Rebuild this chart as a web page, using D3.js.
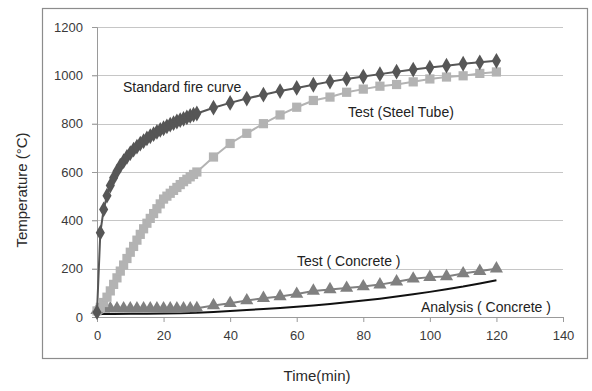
<!DOCTYPE html>
<html>
<head>
<meta charset="utf-8">
<script src="https://cdn.jsdelivr.net/npm/d3@7"></script>
<style>
  body { margin: 0; background: #fff; }
  svg { display: block; }
</style>
</head>
<body>
<div id="chart"></div>
<script>
// time grid (min)
var timeFire = [0,1,2,3,4,5,6,7,8,9,10,11,12,13,14,15,16,17,18,19,20,21,22,23,24,25,26,27,28,29,30,
  35,40,45,50,55,60,65,70,75,80,85,90,95,100,105,110,115,120];
var fireCurve = [20,349,445,502,544,576,603,626,645,663,678,693,705,717,728,739,748,757,766,774,781,789,796,802,809,815,820,826,832,837,842,
  866,886,904,920,935,948,961,974,985,995,1005,1015,1024,1032,1040,1048,1054,1060];

var timeSteel = timeFire;
var steelTube = [25,40,60,82,108,135,162,190,215,242,268,292,318,342,365,388,408,428,448,468,488,500,512,524,536,548,560,570,580,590,600,
  662,718,760,800,836,868,896,910,930,943,955,962,973,985,993,998,1008,1014];

var timeConcrete = [0,2,4,6,8,10,12,14,16,18,20,22,24,26,28,30,35,40,45,50,55,60,65,70,75,80,85,90,95,100,105,110,115,120];
var testConcrete = [28,34,35,35,35,35,35,35,35,35,35,35,35,35,35,36,48,57,68,78,85,95,108,114,120,126,134,146,158,165,168,180,190,200];

var timeAnalysis = [0,5,10,15,20,25,30,35,40,45,50,55,60,65,70,75,80,85,90,95,100,105,110,115,120];
var analysisConcrete = [12,12,13,13,14,15,18,21,25,29,33,37,42,48,54,61,68,76,85,94,104,115,126,139,152];

var xTicks = [0,20,40,60,80,100,120,140];
var yTicks = [0,200,400,600,800,1000,1200];

var svg = d3.select("#chart").append("svg")
  .attr("width", 592)
  .attr("height", 391);

// outer frame
svg.append("rect")
  .attr("x", 42.5).attr("y", 8.5)
  .attr("width", 545).attr("height", 350)
  .attr("fill", "#fff")
  .attr("stroke", "#8c8c8c")
  .attr("stroke-width", 1.2);

var x = d3.scaleLinear().domain([0, 140]).range([97, 563]);
var y = d3.scaleLinear().domain([0, 1200]).range([317, 27]);

// gridlines
svg.append("g")
  .selectAll("line")
  .data(yTicks.filter(function(d){ return d > 0; }))
  .enter()
  .append("line")
    .attr("x1", x(0) - 5).attr("x2", x(140))
    .attr("y1", function(d){ return Math.round(y(d)) + 0.5; })
    .attr("y2", function(d){ return Math.round(y(d)) + 0.5; })
    .attr("stroke", "#c6c6c6")
    .attr("stroke-width", 1);

// y axis
var yAxis = svg.append("g")
  .attr("transform", "translate(" + x(0) + ",0)")
  .call(d3.axisLeft(y).tickValues(yTicks).tickFormat(d3.format("d")).tickSize(5).tickPadding(9))
  .attr("font-family", "Liberation Sans, Arial, sans-serif")
  .attr("font-size", 13);
yAxis.selectAll("line").attr("stroke", "#9a9a9a");
yAxis.select(".domain").attr("stroke", "#9a9a9a");
yAxis.selectAll("text").attr("fill", "#3a3a3a");

// x axis
var xAxis = svg.append("g")
  .attr("transform", "translate(0," + y(0) + ")")
  .call(d3.axisBottom(x).tickValues(xTicks).tickFormat(d3.format("d")).tickSize(5).tickPadding(9).tickSizeOuter(0))
  .attr("font-family", "Liberation Sans, Arial, sans-serif")
  .attr("font-size", 13);
xAxis.selectAll("line").attr("stroke", "#9a9a9a");
xAxis.select(".domain").attr("stroke", "#9a9a9a");
xAxis.selectAll("text").attr("fill", "#3a3a3a");

// axis titles
svg.append("text")
  .attr("transform", "translate(27,190) rotate(-90)")
  .attr("text-anchor", "middle")
  .attr("font-family", "Liberation Sans, Arial, sans-serif")
  .attr("font-size", 15)
  .attr("fill", "#2a2a2a")
  .text("Temperature   (°C)");

svg.append("text")
  .attr("x", 317).attr("y", 381)
  .attr("text-anchor", "middle")
  .attr("font-family", "Liberation Sans, Arial, sans-serif")
  .attr("font-size", 15)
  .attr("fill", "#2a2a2a")
  .text("Time(min)");

function toPoints(ts, vs) {
  return ts.map(function(t, i){ return [t, vs[i]]; });
}

var line = d3.line()
  .x(function(d){ return x(d[0]); })
  .y(function(d){ return y(d[1]); });

// Analysis (Concrete) - plain black line
svg.append("path")
  .datum(toPoints(timeAnalysis, analysisConcrete))
  .attr("d", line)
  .attr("fill", "none")
  .attr("stroke", "#111")
  .attr("stroke-width", 2);

// series with markers
var series = [
  { pts: toPoints(timeConcrete, testConcrete), color: "#808080", symbol: d3.symbolTriangle, size: 75 },
  { pts: toPoints(timeSteel, steelTube), color: "#b3b3b3", symbol: d3.symbolSquare, size: 85 },
  { pts: toPoints(timeFire, fireCurve), color: "#565656", symbol: d3.symbolDiamond, size: 72 }
];

series.forEach(function(s) {
  svg.append("path")
    .datum(s.pts)
    .attr("d", line)
    .attr("fill", "none")
    .attr("stroke", s.color)
    .attr("stroke-width", 2);
  svg.append("g")
    .selectAll("path")
    .data(s.pts)
    .enter()
    .append("path")
      .attr("d", d3.symbol().type(s.symbol).size(s.size))
      .attr("transform", function(d){ return "translate(" + x(d[0]) + "," + y(d[1]) + ")"; })
      .attr("fill", s.color);
});

// series labels
var labels = [
  { text: "Standard fire curve", x: 123, y: 92 },
  { text: "Test (Steel Tube)", x: 348, y: 117 },
  { text: "Test ( Concrete )", x: 297, y: 266 },
  { text: "Analysis ( Concrete )", x: 421, y: 312 }
];
svg.append("g")
  .selectAll("text")
  .data(labels)
  .enter()
  .append("text")
    .attr("x", function(d){ return d.x; })
    .attr("y", function(d){ return d.y; })
    .attr("font-family", "Liberation Sans, Arial, sans-serif")
    .attr("font-size", 14)
    .attr("fill", "#222")
    .text(function(d){ return d.text; });
</script>
</body>
</html>
